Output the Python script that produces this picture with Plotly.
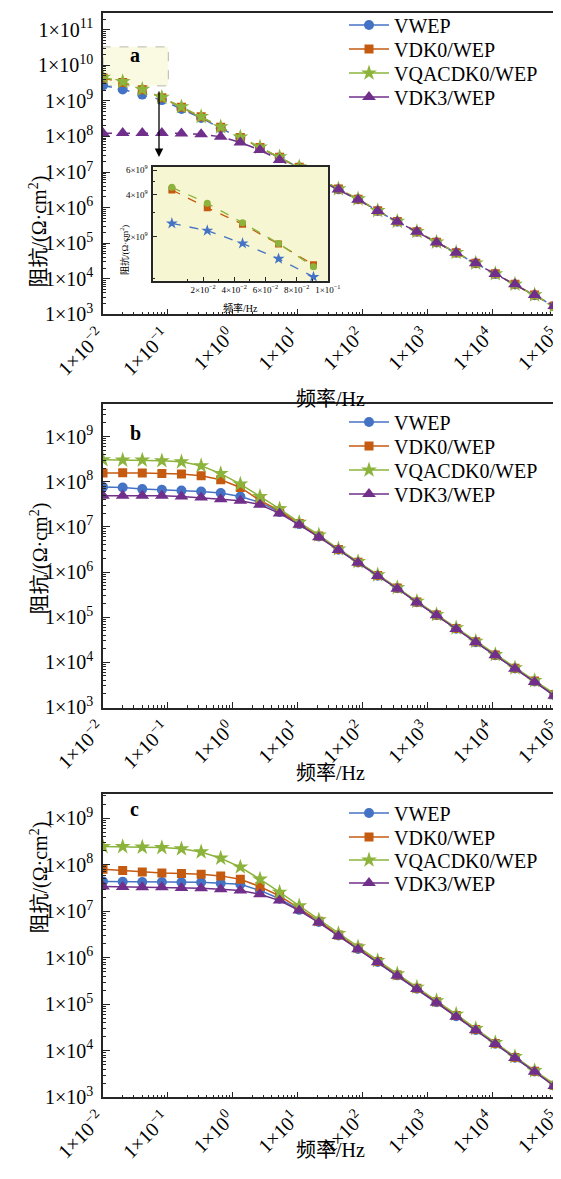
import plotly.graph_objects as go

# ---------------- data ----------------
freq = [0.01, 0.0201, 0.0403, 0.0808, 0.162, 0.326, 0.653, 1.31, 2.63, 5.28, 10.6, 21.3,
        42.7, 85.6, 172, 345, 692, 1390, 2790, 5590, 11200, 22500, 45200, 90700]

series_names = ["VWEP", "VDK0/WEP", "VQACDK0/WEP", "VDK3/WEP"]

# panel a
a_vwep = [2.7e9, 2.1e9, 1.5e9, 1.05e9, 5.9e8, 3.3e8, 1.7e8, 9.0e7, 4.7e7, 2.55e7, 1.33e7, 6.7e6,
          3.25e6, 1.7e6, 8.0e5, 4.0e5, 2.08e5, 1.05e5, 5.35e4, 2.7e4, 1.36e4, 6.9e3, 3.45e3, 1.7e3]
a_vdk0 = [4.4e9, 3.3e9, 2.05e9, 1.22e9, 6.6e8, 3.55e8, 1.82e8, 9.4e7, 4.9e7, 2.6e7, 1.37e7, 6.8e6,
          3.3e6, 1.72e6, 8.1e5, 4.05e5, 2.1e5, 1.06e5, 5.4e4, 2.72e4, 1.37e4, 6.95e3, 3.48e3, 1.71e3]
a_vqacdk0 = [4.6e9, 3.45e9, 2.1e9, 1.25e9, 6.8e8, 3.6e8, 1.86e8, 9.6e7, 5.0e7, 2.67e7, 1.4e7, 6.9e6,
             3.35e6, 1.75e6, 8.2e5, 4.1e5, 2.12e5, 1.07e5, 5.45e4, 2.75e4, 1.38e4, 7.0e3, 3.5e3, 1.72e3]
a_vdk3 = [1.22e8, 1.24e8, 1.24e8, 1.24e8, 1.21e8, 1.15e8, 9.8e7, 6.8e7, 4.15e7, 2.16e7, 1.13e7, 6.0e6,
          3.2e6, 1.65e6, 7.98e5, 3.99e5, 2.09e5, 1.05e5, 5.37e4, 2.71e4, 1.36e4, 6.96e3, 3.48e3, 1.71e3]

# panel b
b_vwep = [7.6e7, 7.45e7, 6.85e7, 6.6e7, 6.4e7, 6.07e7, 5.6e7, 4.7e7, 3.47e7, 2.14e7, 1.15e7, 6.1e6,
          3.1e6, 1.63e6, 8.3e5, 4.35e5, 2.15e5, 1.11e5, 5.55e4, 2.8e4, 1.44e4, 7.3e3, 3.75e3, 1.88e3]
b_vdk0 = [1.55e8, 1.57e8, 1.55e8, 1.51e8, 1.47e8, 1.35e8, 1.1e8, 7.45e7, 3.84e7, 2.27e7, 1.18e7, 6.3e6,
          3.15e6, 1.65e6, 8.4e5, 4.4e5, 2.18e5, 1.12e5, 5.6e4, 2.85e4, 1.45e4, 7.4e3, 3.85e3, 1.95e3]
b_vqacdk0 = [3.05e8, 3.0e8, 3.0e8, 2.9e8, 2.75e8, 2.25e8, 1.51e8, 8.85e7, 4.7e7, 2.5e7, 1.25e7, 6.6e6,
             3.23e6, 1.69e6, 8.6e5, 4.5e5, 2.24e5, 1.14e5, 5.77e4, 2.92e4, 1.48e4, 7.5e3, 3.94e3, 2.04e3]
b_vdk3 = [4.9e7, 4.9e7, 4.9e7, 4.85e7, 4.7e7, 4.47e7, 4.1e7, 3.8e7, 3.1e7, 1.98e7, 1.11e7, 5.9e6,
          3.07e6, 1.61e6, 8.2e5, 4.27e5, 2.12e5, 1.1e5, 5.48e4, 2.77e4, 1.43e4, 7.25e3, 3.68e3, 1.83e3]

# panel c
c_vwep = [4.33e7, 4.3e7, 4.26e7, 4.26e7, 4.2e7, 4.2e7, 4.0e7, 3.81e7, 2.8e7, 1.85e7, 1.07e7, 5.85e6,
          3.0e6, 1.55e6, 8.1e5, 4.18e5, 2.15e5, 1.1e5, 5.5e4, 2.8e4, 1.42e4, 7.1e3, 3.58e3, 1.77e3]
c_vdk0 = [8.0e7, 7.46e7, 7.0e7, 6.67e7, 6.44e7, 6.25e7, 5.75e7, 4.87e7, 3.38e7, 2.13e7, 1.15e7, 6.1e6,
          3.1e6, 1.62e6, 8.3e5, 4.28e5, 2.2e5, 1.13e5, 5.75e4, 2.86e4, 1.44e4, 7.2e3, 3.62e3, 1.82e3]
c_vqacdk0 = [2.45e8, 2.45e8, 2.38e8, 2.33e8, 2.19e8, 1.88e8, 1.38e8, 8.9e7, 4.88e7, 2.56e7, 1.3e7, 6.5e6,
             3.3e6, 1.71e6, 8.67e5, 4.49e5, 2.32e5, 1.19e5, 6.1e4, 2.99e4, 1.49e4, 7.46e3, 3.73e3, 1.93e3]
c_vdk3 = [3.38e7, 3.33e7, 3.28e7, 3.28e7, 3.17e7, 3.13e7, 2.97e7, 2.8e7, 2.32e7, 1.69e7, 1.03e7, 5.69e6,
          2.94e6, 1.52e6, 8.0e5, 4.12e5, 2.13e5, 1.08e5, 5.4e4, 2.76e4, 1.4e4, 7.0e3, 3.55e3, 1.75e3]

# inset of panel a (low-frequency zoom, linear frequency axis as drawn)
inset_freq = [0.0, 0.0227, 0.0453, 0.0684, 0.0908]
inset_vwep = [2.49e9, 2.21e9, 1.79e9, 1.39e9, 1.03e9]
inset_vdk0 = [4.32e9, 3.22e9, 2.46e9, 1.77e9, 1.26e9]
inset_vqacdk0 = [4.51e9, 3.47e9, 2.52e9, 1.79e9, 1.22e9]

x_tick_exp = [-2, -1, 0, 1, 2, 3, 4, 5]
ya_tick_exp = [3, 4, 5, 6, 7, 8, 9, 10, 11]
ybc_tick_exp = [3, 4, 5, 6, 7, 8, 9]
inset_x_ticks = [0.02, 0.04, 0.06, 0.08, 0.1]
inset_x_text = ["2×10<sup>−2</sup>", "4×10<sup>−2</sup>", "6×10<sup>−2</sup>", "8×10<sup>−2</sup>", "1×10<sup>−1</sup>"]
inset_x_minor = [0.01, 0.03, 0.05, 0.07, 0.09]
inset_y_ticks = [2e9, 4e9, 6e9]
inset_y_text = ["2×10<sup>9</sup>", "4×10<sup>9</sup>", "6×10<sup>9</sup>"]

# ---------------- style ----------------
WIN_W, WIN_H = 561, 1179
OFF = 8                       # default page margin around the plot div
W, H = WIN_W - OFF, WIN_H - OFF
SERIF = "Liberation Serif, Noto Sans CJK SC, serif"
colors = ["#4472C4", "#C55A11", "#8CB43C", "#702F8A"]
symbols = ["circle", "square", "star", "triangle-up"]
msizes = [10, 9, 12, 12]
AX = "#262626"
EPS = 0.0003


def exp_text(e):
    s = str(e).replace("-", "−")
    return "1×10<sup>%s</sup>" % s


def minor_vals(lo, hi):
    return [m * 10.0 ** e for e in range(lo, hi) for m in range(2, 10)]


def px(x):  # window pixel -> paper fraction
    return (x - OFF) / W


def py(y):
    return 1 - (y - OFF) / H


XL, XR = 103, 557
panels = [  # (top, bottom, y-range, tick exps)
    (12.7, 314.3, [3 - EPS, 11.478], ya_tick_exp),
    (404.0, 707.5, [3 - EPS, 9.72], ybc_tick_exp),
    (794.0, 1097.3, [3 - EPS, 9.52], ybc_tick_exp),
]
legend_rows = [[25, 49, 73, 97], [422, 446, 470, 494], [813, 837, 860, 883]]

fig = go.Figure()

data_sets = [
    [a_vwep, a_vdk0, a_vqacdk0, a_vdk3],
    [b_vwep, b_vdk0, b_vqacdk0, b_vdk3],
    [c_vwep, c_vdk0, c_vqacdk0, c_vdk3],
]

layout = dict(
    width=W, height=H, margin=dict(l=0, r=0, t=0, b=0, autoexpand=False),
    paper_bgcolor="white", plot_bgcolor="white",
    font=dict(family=SERIF, color="black"),
)

leg_n = 0
for p, sets in enumerate(data_sets):
    xa = "x" if p == 0 else "x%d" % (p + 1)
    ya = "y" if p == 0 else "y%d" % (p + 1)
    for i, vals in enumerate(sets):
        leg_n += 1
        lid = "legend" if leg_n == 1 else "legend%d" % leg_n
        layout[lid] = dict(
            x=px(344), y=py(legend_rows[p][i]), xanchor="left", yanchor="middle",
            bgcolor="rgba(0,0,0,0)", borderwidth=0, itemwidth=40,
            font=dict(family=SERIF, size=20, color="black"),
        )
        fig.add_trace(go.Scatter(
            x=freq, y=vals, mode="lines+markers", name=series_names[i],
            xaxis=xa, yaxis=ya, legend=lid, showlegend=(p != 0),
            line=dict(color=colors[i], width=1.5, dash="dash" if p == 0 else "solid"),
            marker=dict(symbol=symbols[i], size=msizes[i], color=colors[i]),
        ))
        if p == 0:
            # legend entry of panel a is drawn with a solid line
            fig.add_trace(go.Scatter(
                x=[None], y=[None], mode="lines+markers", name=series_names[i],
                xaxis=xa, yaxis=ya, legend=lid, showlegend=True, hoverinfo="skip",
                line=dict(color=colors[i], width=1.5),
                marker=dict(symbol=symbols[i], size=msizes[i], color=colors[i]),
            ))

# inset
ix_range = [-0.0119, 0.1003]
iy_range = [8.986, 9.802]
fig.add_trace(go.Scatter(
    x=[ix_range[0] - 1, ix_range[1] + 1, ix_range[1] + 1, ix_range[0] - 1],
    y=[10 ** (iy_range[0] - 1), 10 ** (iy_range[0] - 1), 10 ** (iy_range[1] + 1), 10 ** (iy_range[1] + 1)],
    fill="toself", fillcolor="#F6F6D2", mode="none", xaxis="x4", yaxis="y4",
    showlegend=False, hoverinfo="skip"))
inset_sets = [(inset_vwep, 0, "star"), (inset_vdk0, 1, "square"), (inset_vqacdk0, 2, "circle")]
for vals, ci, sym in inset_sets:
    fig.add_trace(go.Scatter(
        x=inset_freq, y=vals, mode="lines+markers", xaxis="x4", yaxis="y4", showlegend=False,
        line=dict(color=colors[ci], width=1.3, dash="dash"),
        marker=dict(symbol=sym, size=7 if sym != "star" else 9, color=colors[ci]),
    ))

for p, (top, bot, yr, yexp) in enumerate(panels):
    sx = "" if p == 0 else str(p + 1)
    layout["xaxis" + sx] = dict(
        type="log", range=[-2 - EPS, 5 + EPS], domain=[px(XL), px(XR)], anchor="y" + sx, automargin=False,
        showline=True, linecolor=AX, linewidth=1.5, mirror=True,
        ticks="inside", ticklen=6, tickwidth=1.2, tickcolor=AX,
        tickmode="array", tickvals=[10.0 ** e for e in x_tick_exp],
        ticktext=[exp_text(e) for e in x_tick_exp], tickangle=-45, ticklabeloverflow="allow",
        ticklabelshift=-4,
        tickfont=dict(family=SERIF, size=20, color="black"),
        minor=dict(ticks="inside", ticklen=3, tickwidth=1, tickcolor=AX,
                   tickmode="array", tickvals=minor_vals(-2, 5)),
        showgrid=False, zeroline=False,
    )
    layout["yaxis" + sx] = dict(
        type="log", range=yr, domain=[py(bot), py(top)], anchor="x" + sx, automargin=False,
        showline=True, linecolor=AX, linewidth=1.5, mirror=True,
        ticks="inside", ticklen=7, tickwidth=1.2, tickcolor=AX,
        tickmode="array", tickvals=[10.0 ** e for e in yexp],
        ticktext=[exp_text(e) for e in yexp], ticklabeloverflow="allow",
        tickfont=dict(family=SERIF, size=20, color="black"),
        minor=dict(ticks="inside", ticklen=3, tickwidth=1, tickcolor=AX,
                   tickmode="array", tickvals=minor_vals(yexp[0], yexp[-1] + 1)),
        showgrid=False, zeroline=False, ticklabelstandoff=4,
    )

layout["xaxis4"] = dict(
    type="linear", range=ix_range, domain=[px(153.3), px(328.3)], anchor="y4", automargin=False,
    showline=True, linecolor=AX, linewidth=1.5, mirror=True,
    ticks="inside", ticklen=4, tickwidth=1, tickcolor=AX,
    tickmode="array", tickvals=inset_x_ticks, ticktext=inset_x_text, tickangle=0,
    ticklabeloverflow="allow",
    tickfont=dict(family=SERIF, size=9, color="black"),
    minor=dict(ticks="inside", ticklen=2, tickcolor=AX, tickmode="array", tickvals=inset_x_minor),
    showgrid=False, zeroline=False,
)
layout["yaxis4"] = dict(
    type="log", range=iy_range, domain=[py(280.7), py(166.7)], anchor="x4", automargin=False,
    showline=True, linecolor=AX, linewidth=1.5, mirror=True,
    ticks="inside", ticklen=4, tickwidth=1, tickcolor=AX,
    tickmode="array", tickvals=inset_y_ticks, ticktext=inset_y_text,
    tickfont=dict(family=SERIF, size=9, color="black"),
    minor=dict(ticks="inside", ticklen=2, tickcolor=AX, tickmode="array",
               tickvals=[1e9, 3e9, 5e9]),
    showgrid=False, zeroline=False, ticklabelstandoff=2,
)

annotations = []
# panel letters
for lbl, y in [("a", 41.7), ("b", 433), ("c", 822)]:
    annotations.append(dict(text="<b>%s</b>" % lbl, x=px(128), y=py(y), xref="paper", yref="paper",
                            showarrow=False, font=dict(family=SERIF, size=20, color="black")))
# axis titles
for yc in [174, 559, 936]:
    annotations.append(dict(text="阻抗/(Ω·cm<sup>2</sup>)", x=px(24), y=py(yc), xref="paper", yref="paper",
                            textangle=-90, showarrow=False, font=dict(family=SERIF, size=20, color="black")))
for yc in [386, 773, 1163]:
    annotations.append(dict(text="频率/Hz", x=px(330), y=py(yc), xref="paper", yref="paper",
                            showarrow=False, font=dict(family=SERIF, size=20, color="black")))
# inset titles
annotations.append(dict(text="频率/Hz", x=px(240.7), y=py(300), xref="paper", yref="paper",
                        showarrow=False, font=dict(family=SERIF, size=10, color="black")))
annotations.append(dict(text="阻抗/(Ω·cm<sup>2</sup>)", x=px(116), y=py(223), xref="paper", yref="paper",
                        textangle=-90, showarrow=False, font=dict(family=SERIF, size=9, color="black")))
# zoom arrow
annotations.append(dict(text="", x=px(159), y=py(157), xref="paper", yref="paper",
                        ax=0, ay=-67, showarrow=True, arrowhead=2, arrowsize=1.3, arrowwidth=1.3,
                        arrowcolor="black"))
layout["annotations"] = annotations

layout["shapes"] = [dict(type="rect", xref="x", yref="y", x0=0.01, x1=0.1016, y0=2.64e9, y1=3.29e10,
                         fillcolor="#FAFAE2", line=dict(color="#B8B8A8", width=1, dash="dash"),
                         layer="below")]

fig.update_layout(**layout)
fig.write_html("out.html")
